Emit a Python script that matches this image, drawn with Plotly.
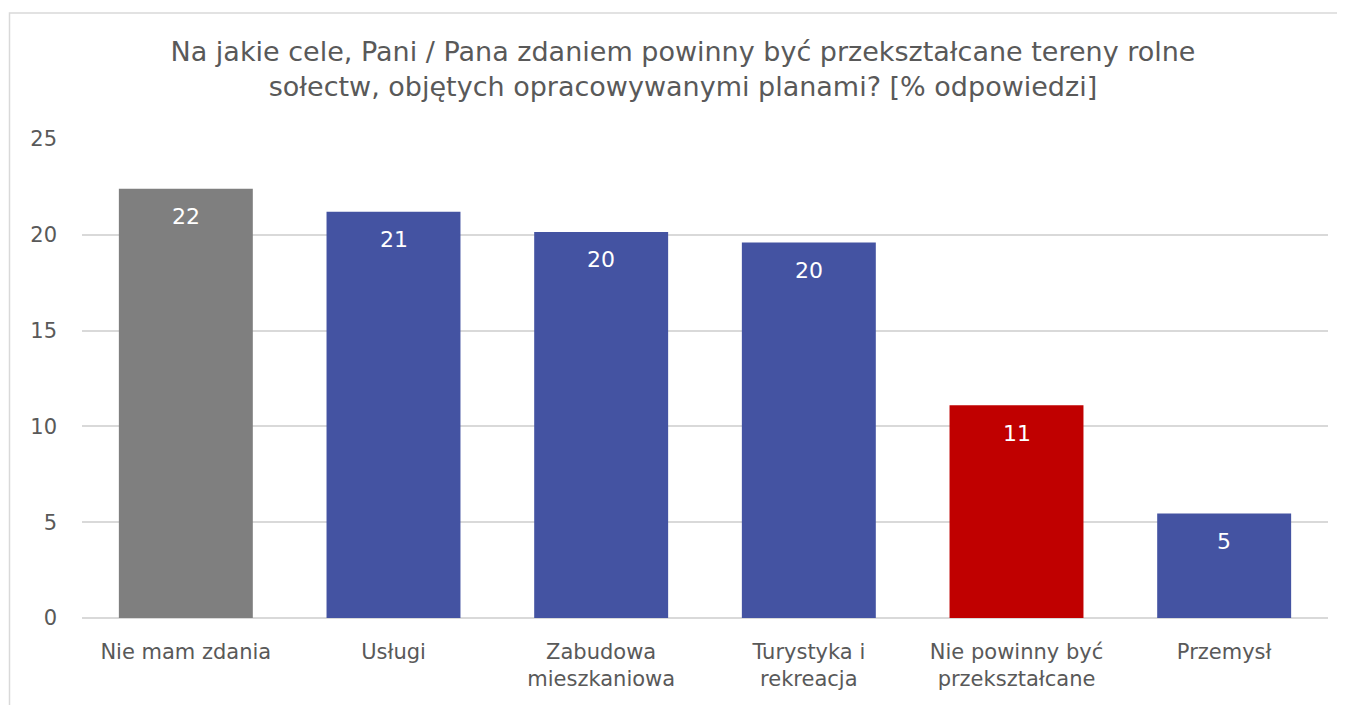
import plotly.graph_objects as go

categories = ["Nie mam zdania", "Usługi", "Zabudowa<br>mieszkaniowa", "Turystyka i<br>rekreacja",
              "Nie powinny być<br>przekształcane", "Przemysł"]
values = [22.4, 21.2, 20.15, 19.6, 11.1, 5.45]
labels = ["22", "21", "20", "20", "11", "5"]
colors = ["#7F7F7F", "#4453A2", "#4453A2", "#4453A2", "#C00000", "#4453A2"]

FONT = "DejaVu Sans"
W, H = 1345, 705
OFF = 8  # page body margin
L, R, T, B = 82 - OFF, 1345 - (1328 - OFF), 139 - OFF, 705 - (618 - OFF)
pw, ph = W - L - R, H - T - B

fig = go.Figure(go.Bar(
    x=categories, y=values, marker=dict(color=colors, line=dict(width=0)),
    hoverinfo="x+y",
))

for c, v, t in zip(categories, values, labels):
    fig.add_annotation(x=c, y=v, text=t, showarrow=False, yanchor="middle", yshift=-28,
                       font=dict(color="white", size=22, family=FONT))

fig.update_layout(
    width=W, height=H,
    margin=dict(l=L, r=R, t=T, b=B),
    paper_bgcolor="white", plot_bgcolor="white",
    bargap=0.355,
    showlegend=False,
    font=dict(family=FONT, color="#595959", size=21),
    title=dict(
        text="Na jakie cele, Pani / Pana zdaniem powinny być przekształcane tereny rolne<br>sołectw, objętych opracowywanymi planami? [% odpowiedzi]",
        x=(683 - OFF) / W, xanchor="center", xref="container", y=1 - (61 - OFF) / H, yanchor="middle",
        font=dict(size=27, color="#595959", family=FONT),
    ),
    xaxis=dict(showgrid=False, showline=False, ticks="", tickfont=dict(size=21, color="#595959"),
               ticklabelstandoff=19),
    yaxis=dict(range=[0, 25], dtick=5, showgrid=True, gridcolor="#D9D9D9", gridwidth=1.5,
               zeroline=True, zerolinecolor="#D9D9D9", zerolinewidth=1.5,
               showline=False, ticks="", tickfont=dict(size=21, color="#595959"),
               ticklabelstandoff=24),
    shapes=[dict(type="rect", xref="paper", yref="paper",
                 x0=(9.5 - OFF - L) / pw, x1=(W + 50 - L) / pw,
                 y0=-1, y1=(H - B - (13 - OFF)) / ph,
                 line=dict(color="#D9D9D9", width=1.5), fillcolor="rgba(0,0,0,0)", layer="below")],
)

fig.write_html("out.html")
